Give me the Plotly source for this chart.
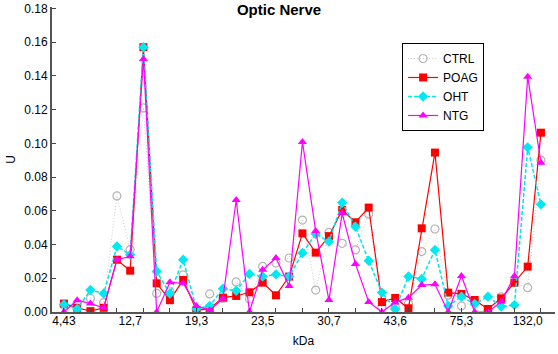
import plotly.graph_objects as go

idx = list(range(37))
tick_pos = [0, 5, 10, 15, 20, 25, 30, 35]
tick_labels = ["4,43", "12,7", "19,3", "23,5", "30,7", "43,6", "75,3", "132,0"]

ctrl = [0.004, 0.005, 0.008, 0.0055, 0.0688, 0.037, 0.121, 0.011, 0.012, 0.022,
        0.001, 0.0107, 0.008, 0.0178, 0.0077, 0.027, 0.029, 0.032, 0.0545, 0.013,
        0.0472, 0.0407, 0.0368, 0.058, 0.003, 0.0028, 0.005, 0.0358, 0.0492, 0.010,
        0.0036, 0.006, 0.001, 0.009, 0.0174, 0.0144, 0.090]
poag = [0.005, 0.0025, 0.0005, 0.0025, 0.031, 0.0245, 0.157, 0.017, 0.007, 0.019,
        0.001, 0.002, 0.0085, 0.0095, 0.0117, 0.0174, 0.0099, 0.021, 0.0466, 0.0352,
        0.045, 0.0605, 0.0532, 0.0619, 0.0059, 0.0083, 0.0022, 0.0496, 0.0945, 0.0115,
        0.0107, 0.0071, 0.0018, 0.0081, 0.0174, 0.0269, 0.1063]
oht = [0.0045, 0.0018, 0.013, 0.011, 0.0388, 0.034, 0.157, 0.024, 0.011, 0.031,
       0.002, 0.0036, 0.0138, 0.0126, 0.0225, 0.021, 0.0223, 0.021, 0.035, 0.0462,
       0.0417, 0.0648, 0.0506, 0.0304, 0.0115, 0.0016, 0.021, 0.0196, 0.0368, 0.0036,
       0.0091, 0.0047, 0.0091, 0.0032, 0.0041, 0.0976, 0.0638]
ntg = [0.0, 0.007, 0.005, 0.0025, 0.031, 0.033, 0.150, 0.0, 0.0176, 0.017,
       0.0036, 0.001, 0.008, 0.0664, 0.0, 0.025, 0.032, 0.0154, 0.1008, 0.048,
       0.0071, 0.0585, 0.0285, 0.006, 0.0, 0.0057, 0.0085, 0.016, 0.0164, 0.0,
       0.0213, 0.0, 0.0, 0.0061, 0.0213, 0.1395, 0.0885]

FONT = "Liberation Sans, Arial, sans-serif"

fig = go.Figure()
fig.add_trace(go.Scatter(x=idx, y=ctrl, name="CTRL", mode="lines+markers",
                         line=dict(color="#cccccc", width=1, dash="1px,2px"),
                         marker=dict(symbol="circle-open", size=8, color="#b4b4b4",
                                     line=dict(width=1.2))))
fig.add_trace(go.Scatter(x=idx, y=poag, name="POAG", mode="lines+markers",
                         line=dict(color="#ff0000", width=1.2),
                         marker=dict(symbol="square", size=8, color="#ff0000")))
fig.add_trace(go.Scatter(x=idx, y=oht, name="OHT", mode="lines+markers",
                         line=dict(color="#00e5ee", width=1.5, dash="4px,2px"),
                         marker=dict(symbol="diamond", size=8, color="#00e8f0")))
fig.add_trace(go.Scatter(x=idx, y=ntg, name="NTG", mode="lines+markers",
                         line=dict(color="#ff00ff", width=1.2),
                         marker=dict(symbol="triangle-up", size=8, color="#ff00ff")))

xr = [-0.9, 37.06]
fig.update_layout(
    width=558, height=354,
    margin=dict(l=52, r=3, t=7, b=42),
    paper_bgcolor="white", plot_bgcolor="white",
    font=dict(family=FONT, size=12, color="black"),
    title=dict(text="<b>Optic Nerve</b>", x=0.5, xref="container", xanchor="center",
               y=0.972, yref="container", yanchor="middle",
               font=dict(family=FONT, size=15, color="black")),
    showlegend=True,
    legend=dict(x=0.696, y=0.882, xanchor="left", yanchor="top",
                bordercolor="black", borderwidth=1, bgcolor="white",
                font=dict(family=FONT, size=12, color="black"),
                tracegroupgap=0, itemwidth=30),
    xaxis=dict(range=xr, tickvals=list(range(0, 37, 2)),
               ticktext=["" for _ in range(0, 37, 2)],
               ticks="inside", ticklen=4, tickcolor="#444", tickwidth=1,
               showline=True, linecolor="#555", linewidth=2,
               showgrid=False, zeroline=False),
    xaxis2=dict(range=xr, overlaying="x", side="bottom", anchor="y",
                tickvals=tick_pos, ticktext=tick_labels, ticks="",
                showline=False, showgrid=False, zeroline=False,
                tickfont=dict(family=FONT, size=12, color="black"),
                title=dict(text="kDa", font=dict(family=FONT, size=12, color="black"),
                           standoff=9)),
    yaxis=dict(range=[0, 0.1808], dtick=0.02, tick0=0, tickformat=".2f",
               ticks="inside", ticklen=4, tickcolor="#444",
               showline=True, linecolor="#555", linewidth=2,
               showgrid=False, zeroline=False,
               tickfont=dict(family=FONT, size=12, color="black"),
               title=dict(text="U", font=dict(family=FONT, size=12, color="black"),
                          standoff=6)),
)
# invisible trace on xaxis2 so the labelled axis renders
fig.add_trace(go.Scatter(x=[0], y=[0], xaxis="x2", yaxis="y", mode="markers",
                         marker=dict(opacity=0), showlegend=False, hoverinfo="skip"))

fig.write_html("out.html")
